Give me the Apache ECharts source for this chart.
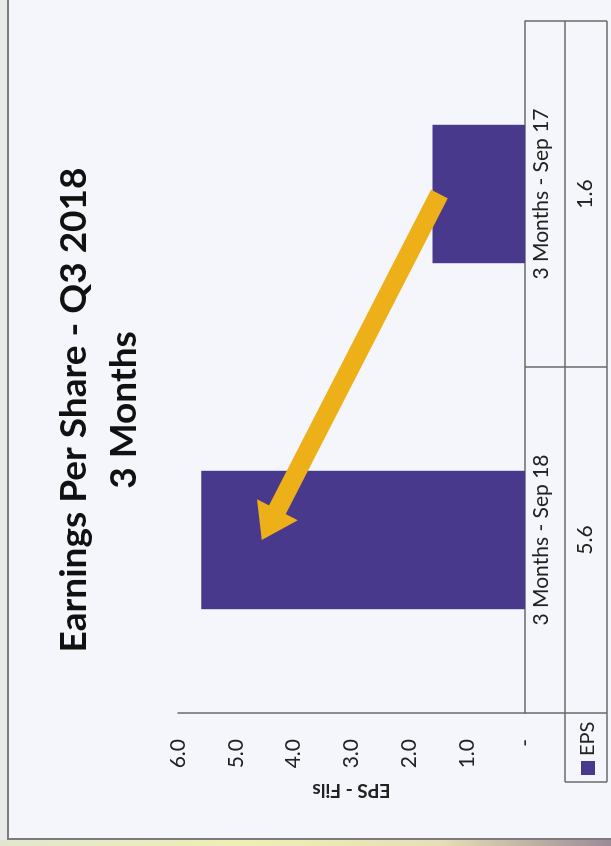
<!DOCTYPE html>
<html>
<head>
<meta charset="utf-8">
<title>Earnings Per Share - Q3 2018</title>
<script src="https://cdn.jsdelivr.net/npm/echarts@6/dist/echarts.min.js"></script>
<style>
  body { margin: 0; background: #e9ebe9; }
  #strip { position: absolute; left: 0; top: 840px; width: 611px; height: 6px;
           background: linear-gradient(to right, #e2e6cf, #eef0b2 40%, #e6dfb6 72%, #9b8b97); }
  /* the photo shows the slide turned a quarter to the left */
  #wrap { position: absolute; left: 0; top: 0; width: 846px; height: 611px;
          transform-origin: 0 0; transform: translateY(846px) rotate(-90deg); }
  #chart { width: 846px; height: 611px; }
</style>
</head>
<body>
<div id="strip"></div>
<div id="wrap"><div id="chart"></div></div>
<script type="text/javascript">
var categories = ['3 Months - Sep 18', '3 Months - Sep 17'];
var eps = [5.6, 1.6];
var valueTicks = ['-', '1.0', '2.0', '3.0', '4.0', '5.0', '6.0'];
// arrow: [category index, value]
var arrowFrom = [1, 1.48];
var arrowTo = [0, 4.55];

var font = 'Lato, "Open Sans", sans-serif';
var lineCol = '#6a6a6a';

var myChart = echarts.init(document.getElementById('chart'));

var option = {
    animation: false,
    backgroundColor: 'transparent',
    textStyle: { fontFamily: font },
    grid: { left: 133, right: 21, top: 178, bottom: 86 },
    legend: {
        data: ['EPS'],
        left: 71, top: 578, padding: 0,
        icon: 'rect', itemWidth: 14, itemHeight: 14,
        textStyle: { fontSize: 20, color: '#222', fontFamily: font }
    },
    xAxis: {
        type: 'category',
        data: categories,
        axisLine: { lineStyle: { color: lineCol, width: 1.5 } },
        axisTick: { show: true, interval: 0, length: 82, lineStyle: { color: lineCol, width: 1.5 } },
        axisLabel: {
            interval: 0, margin: 2,
            formatter: function (v, i) {
                return '{c|' + v + '}\n{v|' + eps[i].toFixed(1) + '}';
            },
            rich: {
                c: { fontSize: 21, lineHeight: 28, color: '#222', fontFamily: font },
                v: { fontSize: 21, lineHeight: 60, color: '#222', fontFamily: font }
            }
        }
    },
    yAxis: {
        type: 'value',
        min: 0, max: 6, interval: 1,
        name: 'EPS - Fils',
        nameLocation: 'middle',
        nameRotate: 90,
        nameGap: 68,
        nameTextStyle: { fontSize: 19, fontWeight: 'bold', color: '#222', fontFamily: font },
        axisLine: { show: true, lineStyle: { color: lineCol, width: 1.5 } },
        axisTick: { show: false },
        splitLine: { show: false },
        axisLabel: {
            margin: 26, fontSize: 21, color: '#222', fontFamily: font,
            formatter: function (v) { return valueTicks[Math.round(v)]; }
        }
    },
    series: [{
        name: 'EPS',
        type: 'bar',
        data: eps,
        barCategoryGap: '60%',
        itemStyle: { color: '#48398c' }
    }]
};
myChart.setOption(option);

// arrow, frame, title and table lines
var p0 = myChart.convertToPixel({ gridIndex: 0 }, arrowFrom);
var p1 = myChart.convertToPixel({ gridIndex: 0 }, arrowTo);
var dx = p1[0] - p0[0], dy = p1[1] - p0[1];
var len = Math.sqrt(dx * dx + dy * dy);
var ux = dx / len, uy = dy / len, nx = -uy, ny = ux;
var hw = 9.5, hl = 34, hh = 23;
var nk = [p1[0] - ux * hl, p1[1] - uy * hl];
var arrowPts = [
    [p0[0] + nx * hw, p0[1] + ny * hw],
    [nk[0] + nx * hw, nk[1] + ny * hw],
    [nk[0] + nx * hh, nk[1] + ny * hh],
    p1,
    [nk[0] - nx * hh, nk[1] - ny * hh],
    [nk[0] - nx * hw, nk[1] - ny * hw],
    [p0[0] - nx * hw, p0[1] - ny * hw]
];

myChart.setOption({
    graphic: [
        { type: 'rect', z: -10, silent: true,
          shape: { x: 7, y: 8, width: 880, height: 640 },
          style: { fill: '#f4f6fb', stroke: '#7c7c7c', lineWidth: 2 } },
        { type: 'text', x: 436, y: 74, style: { text: 'Earnings Per Share - Q3 2018', font: 'bold 37px ' + font,
          fill: '#111', textAlign: 'center', textVerticalAlign: 'middle' } },
        { type: 'text', x: 436, y: 124, style: { text: '3 Months', font: 'bold 37px ' + font,
          fill: '#111', textAlign: 'center', textVerticalAlign: 'middle' } },
        { type: 'line', shape: { x1: 64, y1: 565, x2: 825, y2: 565 }, style: { stroke: lineCol, lineWidth: 1.5 } },
        { type: 'line', shape: { x1: 64, y1: 607, x2: 825, y2: 607 }, style: { stroke: lineCol, lineWidth: 1.5 } },
        { type: 'line', shape: { x1: 64, y1: 565, x2: 64, y2: 607 }, style: { stroke: lineCol, lineWidth: 1.5 } },
        { type: 'polygon', z: 10, shape: { points: arrowPts }, style: { fill: '#eeb018' } }
    ]
});
</script>
</body>
</html>
